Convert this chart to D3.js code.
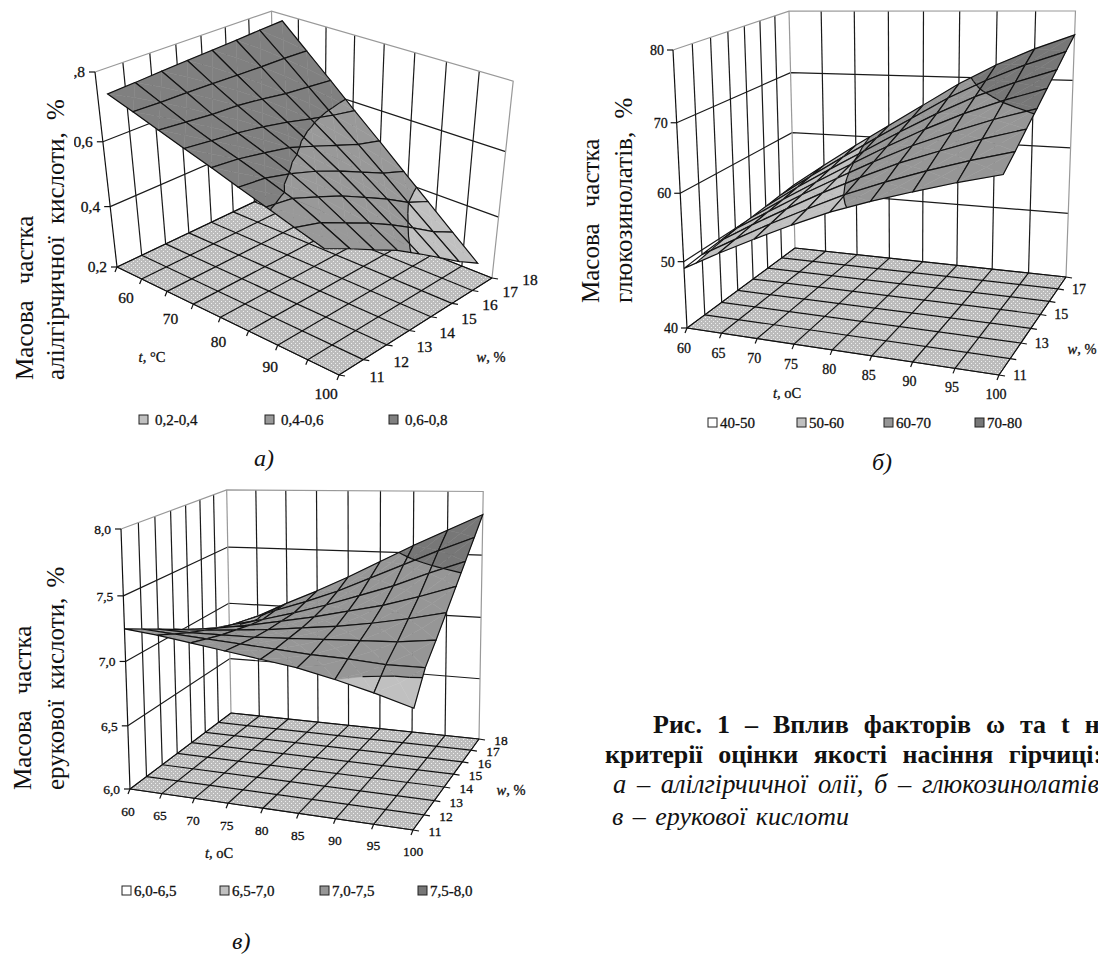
<!DOCTYPE html>
<html lang="uk">
  <head>
    <meta charset="utf-8" />
    <title>Рис. 1</title>
    <script src="https://d3js.org/d3.v7.min.js"></script>
    <style>
      html, body { margin: 0; padding: 0; background: #fff; overflow: hidden; }
      svg { display: block; }
      text { font-family: "Liberation Serif", serif; fill: #111; }
    </style>
  </head>
  <body>
    <div id="chart"></div>
    <script>
      /********************************
       * data
       ********************************/
      const tempValues = [60, 65, 70, 75, 80, 85, 90, 95, 100];
      const moistValues = [11, 12, 13, 14, 15, 16, 17, 18];
      // the oil surface stops short of both ends of the temperature axis
      const oilTemps = [62, 66.5, 70.9, 75.3, 79.8, 84.2, 88.6, 93, 97.5];

      // rows go by moisture 11..18, columns by temperature
      const oilRows = [
        [0.75, 0.726, 0.701, 0.677, 0.653, 0.628, 0.604, 0.579, 0.555],
        [0.754, 0.723, 0.693, 0.667, 0.644, 0.619, 0.592, 0.555, 0.515],
        [0.759, 0.722, 0.685, 0.658, 0.629, 0.598, 0.561, 0.517, 0.472],
        [0.763, 0.72, 0.681, 0.645, 0.612, 0.571, 0.528, 0.479, 0.431],
        [0.767, 0.717, 0.671, 0.628, 0.584, 0.538, 0.488, 0.436, 0.381],
        [0.771, 0.715, 0.659, 0.608, 0.555, 0.501, 0.447, 0.389, 0.329],
        [0.776, 0.714, 0.651, 0.589, 0.526, 0.464, 0.401, 0.339, 0.276],
        [0.78, 0.711, 0.643, 0.574, 0.505, 0.436, 0.368, 0.299, 0.23],
      ];
      const glucoRows = [
        [49, 51.8, 54.4, 56.9, 59.2, 61.1, 62.8, 64.4, 65.8],
        [49.3, 52.2, 55, 57.6, 60.1, 62.2, 64.1, 65.8, 67.3],
        [49.6, 52.7, 55.6, 58.4, 61, 63.4, 65.4, 67.3, 68.9],
        [49.9, 53.1, 56.2, 59.1, 61.9, 64.5, 66.7, 68.7, 70.4],
        [50.1, 53.5, 56.7, 59.8, 62.8, 65.6, 68.1, 70.2, 72],
        [50.4, 54, 57.3, 60.5, 63.7, 66.7, 69.4, 71.6, 73.5],
        [50.7, 54.4, 57.9, 61.3, 64.6, 67.9, 70.7, 73.1, 75.1],
        [51, 54.8, 58.5, 62, 65.5, 69, 72, 74.5, 76.6],
      ];
      const erucRows = [
        [7.25, 7.22, 7.18, 7.14, 7.1, 7.06, 7.0, 6.93, 6.85],
        [7.18, 7.16, 7.14, 7.12, 7.1, 7.08, 7.07, 7.05, 7.05],
        [7.11, 7.1, 7.1, 7.1, 7.11, 7.12, 7.13, 7.14, 7.17],
        [7.04, 7.05, 7.07, 7.09, 7.12, 7.15, 7.19, 7.24, 7.3],
        [6.97, 7.0, 7.04, 7.09, 7.14, 7.2, 7.26, 7.34, 7.43],
        [6.89, 6.96, 7.02, 7.09, 7.17, 7.26, 7.35, 7.46, 7.56],
        [6.8, 6.93, 7.03, 7.12, 7.22, 7.34, 7.46, 7.58, 7.69],
        [6.68, 6.9, 7.03, 7.15, 7.28, 7.42, 7.56, 7.69, 7.82],
      ];

      const oilLevels = [0.2, 0.4, 0.6, 0.8];
      const glucoLevels = [40, 50, 60, 70, 80];
      const erucLevels = [6.0, 6.5, 7.0, 7.5, 8.0];

      const oilLegend = ["0,2-0,4", "0,4-0,6", "0,6-0,8"];
      const glucoLegend = ["40-50", "50-60", "60-70", "70-80"];
      const erucLegend = ["6,0-6,5", "6,5-7,0", "7,0-7,5", "7,5-8,0"];

      const oilZLabels = ["0,2", "0,4", "0,6", "0,8"];
      const glucoZLabels = ["40", "50", "60", "70", "80"];
      const erucZLabels = ["6,0", "6,5", "7,0", "7,5", "8,0"];

      const oilTempTicks = [60, 70, 80, 90, 100];
      const fiveTempTicks = [60, 65, 70, 75, 80, 85, 90, 95, 100];
      const glucoMoistTicks = [11, 13, 15, 17];

      const greys3 = ["#c0c0c0", "#999999", "#808080"];
      const greys4 = ["#ffffff", "#c0c0c0", "#969696", "#777777"];

      /********************************
       * svg
       ********************************/
      const svg = d3.select("#chart").append("svg").attr("width", 1098).attr("height", 955);
      svg.append("rect").attr("width", 1098).attr("height", 955).attr("fill", "#fff");

      // dotted fill of the floor
      const dots = svg.append("defs").append("pattern")
        .attr("id", "dots").attr("width", 4).attr("height", 4)
        .attr("patternUnits", "userSpaceOnUse");
      dots.append("rect").attr("width", 4).attr("height", 4).attr("fill", "#bcbcbc");
      dots.append("rect").attr("x", 1).attr("y", 1).attr("width", 1).attr("height", 1).attr("fill", "#efefef");
      dots.append("rect").attr("x", 3).attr("y", 3).attr("width", 1).attr("height", 1).attr("fill", "#efefef");

      /********************************
       * camera: floor quad + vertical vanishing point
       ********************************/
      function lineCross(a, b, c, d) {
        const d1 = [b[0] - a[0], b[1] - a[1]];
        const d2 = [d[0] - c[0], d[1] - c[1]];
        const k = ((c[0] - a[0]) * d2[1] - (c[1] - a[1]) * d2[0]) / (d1[0] * d2[1] - d1[1] * d2[0]);
        return [a[0] + k * d1[0], a[1] + k * d1[1]];
      }

      function makeCamera(floor, topLeft, topRight) {
        const [p0, p1, p2, p3] = floor;
        const dx1 = p1[0] - p2[0], dx2 = p3[0] - p2[0], sx = p0[0] - p1[0] + p2[0] - p3[0];
        const dy1 = p1[1] - p2[1], dy2 = p3[1] - p2[1], sy = p0[1] - p1[1] + p2[1] - p3[1];
        const den = dx1 * dy2 - dx2 * dy1;
        const g = (sx * dy2 - dx2 * sy) / den;
        const h = (dx1 * sy - sx * dy1) / den;
        const a = p1[0] - p0[0] + g * p1[0], b = p3[0] - p0[0] + h * p3[0];
        const d = p1[1] - p0[1] + g * p1[1], e = p3[1] - p0[1] + h * p3[1];
        const vp = lineCross(p0, topLeft, p2, topRight);
        const s = (p0[1] - topLeft[1]) / (topLeft[1] - vp[1]);
        return function (u, v, up) {
          const w = g * u + h * v + 1 + up * s;
          return [
            (a * u + b * v + p0[0] + up * s * vp[0]) / w,
            (d * u + e * v + p0[1] + up * s * vp[1]) / w,
          ];
        };
      }

      /********************************
       * keep the part of a triangle between two levels
       ********************************/
      function clipBelow(poly, level, keepBelow) {
        const out = [];
        poly.forEach((p, i) => {
          const q = poly[(i + 1) % poly.length];
          const pIn = keepBelow ? p.z <= level : p.z >= level;
          const qIn = keepBelow ? q.z <= level : q.z >= level;
          if (pIn) out.push(p);
          if (pIn !== qIn) {
            const k = (level - p.z) / (q.z - p.z);
            out.push({ t: p.t + k * (q.t - p.t), m: p.m + k * (q.m - p.m), z: level });
          }
        });
        return out;
      }

      function levelSegment(tri, level) {
        const pts = [];
        tri.forEach((p, i) => {
          const q = tri[(i + 1) % 3];
          if ((p.z - level) * (q.z - level) < 0) {
            const k = (level - p.z) / (q.z - p.z);
            pts.push({ t: p.t + k * (q.t - p.t), m: p.m + k * (q.m - p.m), z: level });
          }
        });
        return pts.length === 2 ? pts : null;
      }

      /********************************
       * one 3d chart
       ********************************/
      function drawSurface(c) {
        const root = svg.append("g");
        const project = makeCamera(c.floor, c.topLeft, c.topRight);
        const tScale = d3.scaleLinear().domain([60, 100]).range([0, 1]);
        const mScale = d3.scaleLinear().domain([11, 18]).range([0, 1]);
        const zScale = d3.scaleLinear().domain(d3.extent(c.levels)).range([0, 1]);
        const xy = (t, m, z) => project(tScale(t), mScale(m), zScale(z));
        const line = d3.line();
        const zMin = c.levels[0], zMax = c.levels[c.levels.length - 1];
        const lineW = 1.2;

        // walls
        const wallLines = [];
        moistValues.slice(1, -1).forEach((m) => wallLines.push([xy(60, m, zMin), xy(60, m, zMax)]));
        tempValues.slice(1, -1).forEach((t) => wallLines.push([xy(t, 18, zMin), xy(t, 18, zMax)]));
        c.levels.slice(1, -1).forEach((z) => {
          wallLines.push([xy(60, 11, z), xy(60, 18, z), xy(100, 18, z)]);
        });
        root.append("g").selectAll("path").data(wallLines).enter().append("path")
          .attr("d", line).attr("fill", "none").attr("stroke", "#1a1a1a").attr("stroke-width", lineW);

        // grey outline of the walls
        const rim = [[xy(60, 11, zMax), xy(60, 18, zMax), xy(100, 18, zMax), xy(100, 18, zMin)],
          [xy(60, 18, zMax), xy(60, 18, zMin)]];
        root.append("g").selectAll("path").data(rim).enter().append("path")
          .attr("d", line).attr("fill", "none").attr("stroke", "#999").attr("stroke-width", lineW);

        // floor
        const floorPath = line([xy(60, 11, zMin), xy(100, 11, zMin), xy(100, 18, zMin), xy(60, 18, zMin)]) + "Z";
        root.append("path").attr("d", floorPath).attr("fill", "url(#dots)").attr("stroke", "#333");
        const floorLines = [];
        tempValues.forEach((t) => floorLines.push([xy(t, 11, zMin), xy(t, 18, zMin)]));
        moistValues.forEach((m) => floorLines.push([xy(60, m, zMin), xy(100, m, zMin)]));
        root.append("g").selectAll("path").data(floorLines).enter().append("path")
          .attr("d", line).attr("fill", "none").attr("stroke", "#111").attr("stroke-width", lineW);

        // surface, cell by cell from the back wall forward
        const cells = [];
        for (let j = moistValues.length - 2; j >= 0; j--) {
          for (let i = 0; i < c.temps.length - 1; i++) {
            const corner = (a, b) => ({ t: c.temps[a], m: moistValues[b], z: c.rows[b][a] });
            cells.push([corner(i, j), corner(i + 1, j), corner(i + 1, j + 1), corner(i, j + 1)]);
          }
        }
        const toPath = (poly) => line(poly.map((p) => xy(p.t, p.m, p.z))) + "Z";
        const cellGroups = root.append("g").selectAll("g").data(cells).enter().append("g");
        cellGroups.each(function (cell) {
          const g = d3.select(this);
          const mid = {
            t: d3.mean(cell, (p) => p.t),
            m: d3.mean(cell, (p) => p.m),
            z: d3.mean(cell, (p) => p.z),
          };
          cell.forEach((p, i) => {
            const tri = [p, cell[(i + 1) % 4], mid];
            c.colors.forEach((color, b) => {
              let poly = tri;
              if (b > 0) poly = clipBelow(poly, c.levels[b], false);
              if (b < c.colors.length - 1 && poly.length) poly = clipBelow(poly, c.levels[b + 1], true);
              if (poly.length > 2) {
                g.append("path").attr("d", toPath(poly)).attr("fill", color)
                  .attr("stroke", color).attr("stroke-width", 0.5);
              }
            });
          });
          cell.forEach((p, i) => {
            const tri = [p, cell[(i + 1) % 4], mid];
            c.levels.forEach((level) => {
              const seg = levelSegment(tri, level);
              if (seg) {
                g.append("path").attr("d", line(seg.map((q) => xy(q.t, q.m, q.z))))
                  .attr("fill", "none").attr("stroke", "#111").attr("stroke-width", lineW);
              }
            });
          });
          g.append("path").attr("d", toPath(cell)).attr("fill", "none").attr("stroke", "#111").attr("stroke-width", lineW);
        });

        // z axis
        root.append("path").attr("d", line([xy(60, 11, zMin), xy(60, 11, zMax)]))
          .attr("stroke", "#111").attr("fill", "none").attr("stroke-width", lineW);
        const zAxis = root.append("g");
        if (c.clipId) {
          svg.select("defs").append("clipPath").attr("id", c.clipId)
            .append("rect").attr("x", c.clipX).attr("y", 0).attr("width", 300).attr("height", 955);
          zAxis.attr("clip-path", `url(#${c.clipId})`);
        }
        c.levels.forEach((z, i) => {
          const p = xy(60, 11, z);
          root.append("line").attr("x1", p[0] - 6).attr("x2", p[0]).attr("y1", p[1]).attr("y2", p[1]).attr("stroke", "#111").attr("stroke-width", lineW);
          zAxis.append("text").attr("x", p[0] - c.zGap).attr("y", p[1] + 5)
            .attr("text-anchor", "end").attr("font-size", c.tickSize).attr("stroke", "#111").attr("stroke-width", 0.3).text(c.zLabels[i]);
        });

        // t axis
        const tOffX = d3.scaleLinear().domain([60, 100]).range(c.tOffX);
        const tOffY = d3.scaleLinear().domain([60, 100]).range(c.tOffY);
        tempValues.forEach((t) => {
          const p = xy(t, 11, zMin);
          root.append("line").attr("x1", p[0]).attr("x2", p[0] - 2).attr("y1", p[1]).attr("y2", p[1] + 5).attr("stroke", "#111").attr("stroke-width", lineW);
        });
        c.tTicks.forEach((t) => {
          const p = xy(t, 11, zMin);
          root.append("text").attr("x", p[0] + tOffX(t)).attr("y", p[1] + tOffY(t))
            .attr("text-anchor", "middle").attr("font-size", c.tickSize).attr("stroke", "#111").attr("stroke-width", 0.3).text(t);
        });

        // w axis
        moistValues.forEach((m) => {
          const p = xy(100, m, zMin);
          root.append("line").attr("x1", p[0]).attr("x2", p[0] + 6).attr("y1", p[1]).attr("y2", p[1] + 1).attr("stroke", "#111").attr("stroke-width", lineW);
        });
        c.mTicks.forEach((m) => {
          const p = xy(100, m, zMin);
          root.append("text").attr("x", p[0] + c.mOff[0]).attr("y", p[1] + c.mOff[1])
            .attr("text-anchor", "middle").attr("font-size", c.tickSize).attr("stroke", "#111").attr("stroke-width", 0.3).text(m);
        });

        // axis names
        c.axisNames.forEach((n) => {
          const label = root.append("text").attr("x", n.x).attr("y", n.y)
            .attr("text-anchor", "middle").attr("font-size", 14.5).attr("stroke", "#111").attr("stroke-width", 0.3);
          label.append("tspan").attr("font-style", "italic").text(n.head);
          label.append("tspan").text(n.tail);
        });

        // legend
        c.legend.forEach((txt, i) => {
          const x = c.legendX[i];
          root.append("rect").attr("x", x).attr("y", c.legendY - 5).attr("width", 9).attr("height", 9)
            .attr("fill", c.legendColors[i]).attr("stroke", "#222");
          root.append("text").attr("x", x + c.legendGap).attr("y", c.legendY + 5)
            .attr("font-size", 15).attr("stroke", "#111").attr("stroke-width", 0.3).text(txt);
        });

        // rotated titles
        c.titles.forEach((ttl) => {
          root.append("text")
            .attr("transform", `translate(${ttl.x},${ttl.y}) rotate(-90)`)
            .attr("font-size", 25).attr("word-spacing", ttl.gap).text(ttl.text);
        });

        root.append("text").attr("x", c.mark.x).attr("y", c.mark.y)
          .attr("font-size", 24).attr("font-style", "italic").text(c.mark.text);
      }

      drawSurface({
        rows: oilRows, temps: oilTemps, levels: oilLevels, colors: greys3, legendColors: greys3,
        floor: [[117, 267], [339, 375], [492, 278], [275, 192]],
        topLeft: [95, 72], topRight: [513, 83],
        zLabels: oilZLabels, tTicks: oilTempTicks, mTicks: moistValues,
        zGap: 10, clipId: "clipOil", clipX: 74, tickSize: 15.5,
        tOffX: [9, -13], tOffY: [36, 24], mOff: [38, 7],
        axisNames: [{ x: 152, y: 362, head: "t", tail: ", °C" }, { x: 491, y: 362, head: "w", tail: ", %" }],
        legend: oilLegend, legendX: [139, 265, 389], legendY: 420, legendGap: 16,
        titles: [{ x: 33, y: 380, text: "Масова частка", gap: 10 }, { x: 64, y: 380, text: "алілгірчичної кислоти, %", gap: 6 }],
        mark: { x: 254, y: 466, text: "а)" },
      });

      drawSurface({
        rows: glucoRows, temps: tempValues, levels: glucoLevels, colors: greys4, legendColors: greys4,
        floor: [[687, 328], [999, 375], [1066, 277], [795, 248]],
        topLeft: [673, 50], topRight: [1075, 24],
        zLabels: glucoZLabels, tTicks: fiveTempTicks, mTicks: glucoMoistTicks,
        zGap: 9, tickSize: 14,
        tOffX: [-3, -3], tOffY: [25, 24], mOff: [21, 5],
        axisNames: [{ x: 787, y: 398, head: "t", tail: ", оС" }, { x: 1082, y: 354, head: "w", tail: ", %" }],
        legend: glucoLegend, legendX: [708, 797, 884, 975], legendY: 423, legendGap: 12,
        titles: [{ x: 599, y: 303, text: "Масова частка", gap: 10 }, { x: 632, y: 303, text: "глюкозинолатів, %", gap: 7 }],
        mark: { x: 872, y: 470, text: "б)" },
      });

      drawSurface({
        rows: erucRows, temps: tempValues, levels: erucLevels, colors: greys4, legendColors: greys4,
        floor: [[130, 789], [413, 830], [479, 739], [231, 713]],
        topLeft: [121, 529], topRight: [483, 504],
        zLabels: erucZLabels, tTicks: fiveTempTicks, mTicks: moistValues,
        zGap: 10, tickSize: 13.5,
        tOffX: [-2, 0], tOffY: [27, 26], mOff: [22, 6],
        axisNames: [{ x: 219, y: 858, head: "t", tail: ", оС" }, { x: 511, y: 795, head: "w", tail: ", %" }],
        legend: erucLegend, legendX: [122, 220, 320, 418], legendY: 891, legendGap: 12,
        titles: [{ x: 31, y: 790, text: "Масова частка", gap: 10 }, { x: 64, y: 790, text: "ерукової кислоти, %", gap: 4 }],
        mark: { x: 232, y: 949, text: "в)" },
      });

      /********************************
       * caption
       ********************************/
      const captionLines = [
        { x: 653, y: 733, size: 26, text: "Рис. 1 – Вплив факторів ω та t на", bold: true, gap: 8.5 },
        { x: 605, y: 763, size: 26, text: "критерії оцінки якості насіння гірчиці:", bold: true, gap: 9 },
        { x: 613, y: 793, size: 26.5, text: "а – алілгірчичної олії, б – глюкозинолатів,", bold: false, gap: 4 },
        { x: 612, y: 825, size: 26, text: "в – ерукової кислоти", bold: false, gap: 3 },
      ];
      svg.append("g").selectAll("text").data(captionLines).enter().append("text")
        .attr("x", (d) => d.x).attr("y", (d) => d.y)
        .attr("font-size", (d) => d.size)
        .attr("font-weight", (d) => (d.bold ? 700 : 400))
        .attr("font-style", (d) => (d.bold ? "normal" : "italic"))
        .attr("word-spacing", (d) => d.gap)
        .text((d) => d.text);
    </script>
  </body>
</html>
